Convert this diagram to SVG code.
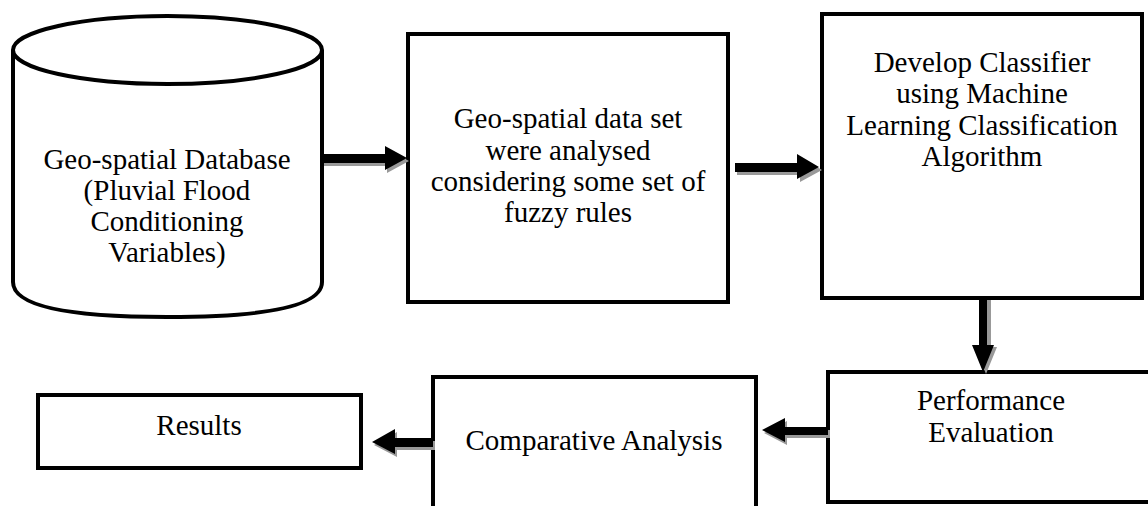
<svg xmlns="http://www.w3.org/2000/svg" width="1148" height="506" viewBox="0 0 1148 506">
<style>
.box{fill:#fff;stroke:#000;stroke-width:4}
.t{font-family:"Liberation Serif","Times New Roman",serif;font-size:29px;fill:#000;text-anchor:middle}
.arr{fill:#000}
.sh{fill:#999}
</style>
<rect width="1148" height="506" fill="#fff"/>
<g id="n1">
<path class="box" d="M13,50 L13,282 Q13,317 167,317 Q322,317 322,282 L322,50"/>
<ellipse class="box" cx="167.5" cy="50" rx="154.5" ry="34"/>
<text class="t" x="167" y="169">Geo-spatial Database</text>
<text class="t" x="167" y="200">(Pluvial Flood</text>
<text class="t" x="167" y="231">Conditioning</text>
<text class="t" x="167" y="262">Variables)</text>
</g>
<g id="n2">
<rect class="box" x="408" y="34" width="320" height="268"/>
<text class="t" x="568" y="128">Geo-spatial data set</text>
<text class="t" x="568" y="160">were analysed</text>
<text class="t" x="568" y="191">considering some set of</text>
<text class="t" x="568" y="222">fuzzy rules</text>
</g>
<g id="n3">
<rect class="box" x="822" y="14" width="320" height="284"/>
<text class="t" x="982" y="72">Develop Classifier</text>
<text class="t" x="982" y="103">using Machine</text>
<text class="t" x="982" y="135">Learning Classification</text>
<text class="t" x="982" y="166">Algorithm</text>
</g>
<g id="n4">
<rect class="box" x="828" y="372" width="330" height="130"/>
<text class="t" x="991" y="410">Performance</text>
<text class="t" x="991" y="442">Evaluation</text>
</g>
<g id="n5">
<rect class="box" x="433" y="377" width="323" height="140"/>
<text class="t" x="594" y="450">Comparative Analysis</text>
</g>
<g id="n6">
<rect class="box" x="38" y="395" width="323" height="73"/>
<text class="t" x="199" y="435">Results</text>
</g>
<g id="edges">
<path class="sh" d="M324,157 L387,157 L387,149 L409,161 L387,173 L387,166 L324,166 Z"/>
<path class="arr" d="M322,154 L385,154 L385,146 L407,158 L385,170 L385,163 L322,163 Z"/>
<path class="sh" d="M737,166 L800,166 L800,157 L822,170 L800,182 L800,175 L737,175 Z"/>
<path class="arr" d="M735,163 L797,163 L797,154 L819,167 L797,179 L797,172 L735,172 Z"/>
<path class="sh" d="M985,300 L991,300 L991,347 L997,347 L986,374 L975,347 L981,347 Z"/>
<path class="arr" d="M979,298 L987,298 L987,345 L994,345 L983,372 L972,345 L979,345 Z"/>
<path class="sh" d="M830,430 L787,430 L787,421 L764,433 L787,445 L787,438 L830,438 Z"/>
<path class="arr" d="M828,427 L785,427 L785,418 L762,430 L785,442 L785,435 L828,435 Z"/>
<path class="sh" d="M435,441 L397,441 L397,432 L374,445 L397,457 L397,450 L435,450 Z"/>
<path class="arr" d="M433,438 L395,438 L395,429 L372,442 L395,454 L395,447 L433,447 Z"/>
</g>
</svg>
